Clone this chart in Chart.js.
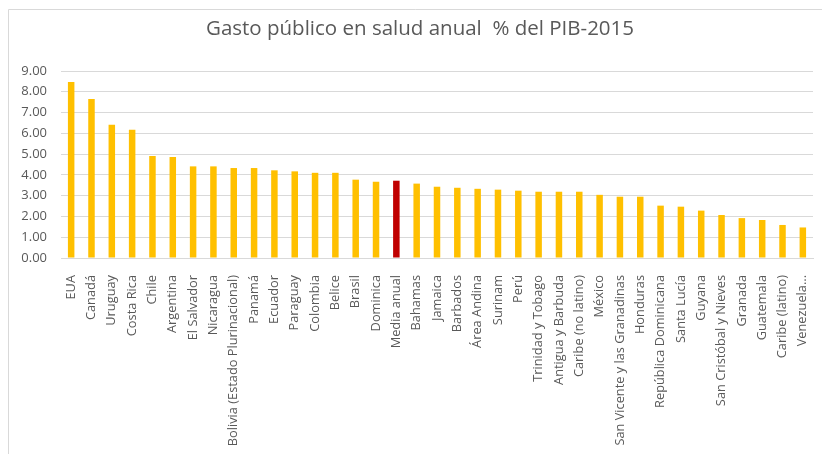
<!DOCTYPE html>
<html>
<head>
<meta charset="utf-8">
<script src="https://cdn.jsdelivr.net/npm/chart.js@4/dist/chart.umd.min.js"></script>
<style>
  html, body { margin: 0; padding: 0; background: #fff; overflow: hidden; }
  #wrap { position: relative; width: 822px; height: 454px; }
</style>
</head>
<body>
<div id="wrap"><canvas id="chart" width="822" height="454"></canvas></div>
<script>
// Gasto público en salud, % del PIB, 2015
const titleText = 'Gasto público en salud anual  % del PIB-2015';
const countries = [
    'EUA', 'Canadá', 'Uruguay', 'Costa Rica', 'Chile', 'Argentina', 'El Salvador',
    'Nicaragua', 'Bolivia (Estado Plurinacional)', 'Panamá', 'Ecuador', 'Paraguay',
    'Colombia', 'Belice', 'Brasil', 'Dominica', 'Media anual', 'Bahamas', 'Jamaica',
    'Barbados', 'Área Andina', 'Surinam', 'Perú', 'Trinidad y Tobago', 'Antigua y Barbuda',
    'Caribe (no latino)', 'México', 'San Vicente y las Granadinas', 'Honduras',
    'República Dominicana', 'Santa Lucía', 'Guyana', 'San Cristóbal y Nieves', 'Granada',
    'Guatemala', 'Caribe (latino)', 'Venezuela...'
];
const gasto = [
    8.47, 7.65, 6.41, 6.17, 4.91, 4.86, 4.41,
    4.41, 4.33, 4.33, 4.22, 4.17,
    4.10, 4.10, 3.77, 3.67, 3.72, 3.58, 3.43,
    3.38, 3.33, 3.29, 3.24, 3.19, 3.19,
    3.19, 3.04, 2.95, 2.95,
    2.52, 2.47, 2.28, 2.07, 1.92,
    1.83, 1.59, 1.47
];
const yTicks = [0, 1, 2, 3, 4, 5, 6, 7, 8, 9];

const colors = countries.map(c => c === 'Media anual' ? '#C00000' : '#FFC000');

// light frame of the chart box (only top and left edges show) and the title
const frame = {
    id: 'frame',
    beforeDraw(chart) {
        const ctx = chart.ctx;
        ctx.save();
        ctx.strokeStyle = '#d9d9d9';
        ctx.lineWidth = 1;
        ctx.beginPath();
        ctx.moveTo(8.5, 454);
        ctx.lineTo(8.5, 9.5);
        ctx.lineTo(822, 9.5);
        ctx.stroke();

        ctx.fillStyle = '#595959';
        ctx.font = '20.5px "Open Sans"';
        ctx.textAlign = 'center';
        ctx.textBaseline = 'middle';
        ctx.fillText(titleText, 420, 29);
        ctx.restore();
    }
};

const ctx = document.getElementById('chart').getContext('2d');
new Chart(ctx, {
    type: 'bar',
    data: {
        labels: countries,
        datasets: [{
            data: gasto,
            backgroundColor: colors,
            barPercentage: 0.32,
            categoryPercentage: 1
        }]
    },
    options: {
        responsive: false,
        animation: false,
        layout: { padding: { left: 0, right: 9, top: 71, bottom: 0 } },
        plugins: {
            legend: { display: false },
            tooltip: { enabled: false },
            title: { display: false }
        },
        scales: {
            x: {
                grid: { display: false },
                border: { color: '#d9d9d9' },
                ticks: {
                    color: '#595959',
                    font: { family: 'Open Sans', size: 12.8 },
                    maxRotation: 90,
                    minRotation: 90,
                    autoSkip: false,
                    padding: 9
                },
                afterFit: s => {
                    s.height = 196;
                    s.paddingLeft = 0;
                    s.paddingRight = 0;
                }
            },
            y: {
                min: 0,
                max: 9,
                afterBuildTicks: s => { s.ticks = yTicks.map(v => ({ value: v })); },
                grid: { color: '#d9d9d9', drawTicks: false },
                border: { display: false },
                ticks: {
                    color: '#595959',
                    font: { family: 'Open Sans', size: 13 },
                    padding: 14,
                    callback: v => v.toFixed(2)
                },
                afterFit: s => { s.width = 61; }
            }
        }
    },
    plugins: [frame]
});
</script>
</body>
</html>
